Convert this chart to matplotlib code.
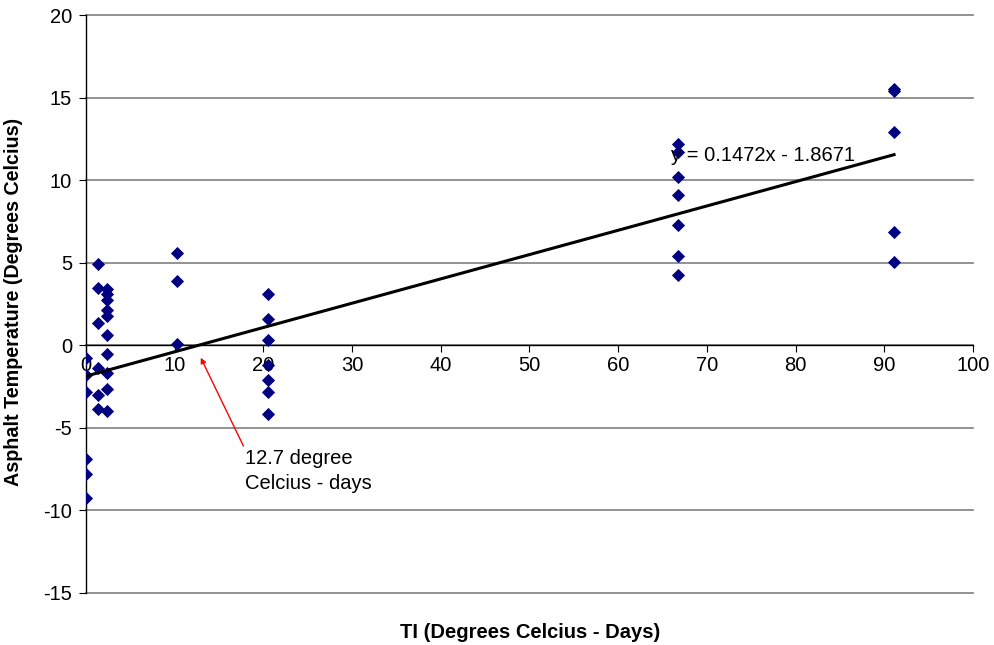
import numpy as np
import matplotlib.pyplot as plt

plt.rcParams['font.family'] = ['Liberation Sans', 'DejaVu Sans']
plt.rcParams['axes.unicode_minus'] = False

# TI values (degree-days) and measured asphalt temperatures
ti = [0, 0, 0, 0, 0, 0,
      1.35, 1.35, 1.35, 1.35, 1.35, 1.35,
      2.4, 2.4, 2.4, 2.4, 2.4, 2.4, 2.4, 2.4, 2.4, 2.4,
      10.3, 10.3, 10.3,
      20.5, 20.5, 20.5, 20.5, 20.5, 20.5, 20.5,
      66.7, 66.7, 66.7, 66.7, 66.7, 66.7, 66.7,
      91.1, 91.1, 91.1, 91.1, 91.1]
temp = [-0.75, -1.8, -2.8, -6.9, -7.8, -9.25,
        4.9, 3.45, 1.35, -1.4, -3.0, -3.85,
        3.4, 3.1, 2.75, 2.15, 1.75, 0.65, -0.5, -1.65, -2.65, -4.0,
        5.6, 3.9, 0.05,
        3.1, 1.6, 0.35, -1.2, -2.1, -2.8, -4.15,
        12.2, 11.7, 10.2, 9.1, 7.3, 5.4, 4.25,
        15.5, 15.4, 12.9, 6.85, 5.05]

slope = 0.1472
intercept = -1.8671

fig = plt.figure(figsize=(9.95, 6.45), dpi=100)
ax = fig.add_axes([86 / 995, 52 / 645, 887 / 995, 578 / 645])

ax.scatter(ti, temp, marker='D', s=45, color='#000080', zorder=3, linewidths=0)

xl = np.array([0, max(ti)])
ax.plot(xl, slope * xl + intercept, color='black', lw=2.2, zorder=4)

ax.set_xlim(0, 100)
ax.set_ylim(-15, 20)
ax.set_xticks(range(0, 101, 10))
ax.set_yticks(range(-15, 21, 5))
ax.yaxis.grid(True, color='#808080', lw=1.2)
for gl in ax.get_ygridlines():
    gl.set_clip_on(False)
ax.set_axisbelow(True)

for s in ['top', 'right']:
    ax.spines[s].set_visible(False)
ax.spines['bottom'].set_position(('data', 0))
ax.spines['left'].set_linewidth(1)
ax.spines['bottom'].set_linewidth(1)
ax.tick_params(axis='x', direction='out', length=5, labelsize=14.5, pad=3)
ax.tick_params(axis='y', direction='out', length=5, labelsize=14.5, pad=5)

ax.text(66.0, 11.5, 'y = 0.1472x - 1.8671', fontsize=14.5, ha='left', va='center')

ax.annotate('12.7 degree\nCelcius - days', xy=(12.8, -0.6), xytext=(17.9, -7.6),
            fontsize=14.5, ha='left', va='center', linespacing=1.4,
            arrowprops=dict(arrowstyle='-|>', color='red', lw=1,
                            mutation_scale=8, shrinkA=0, shrinkB=2,
                            relpos=(0.0, 1.0)))

fig.text(14 / 995, 1 - 302 / 645, 'Asphalt Temperature (Degrees Celcius)',
         rotation=90, fontsize=14.2, fontweight='bold', ha='center', va='center')
fig.text(530 / 995, 1 - 632 / 645, 'TI (Degrees Celcius - Days)',
         fontsize=14.5, fontweight='bold', ha='center', va='center')

fig.savefig('out.png', dpi=100)
